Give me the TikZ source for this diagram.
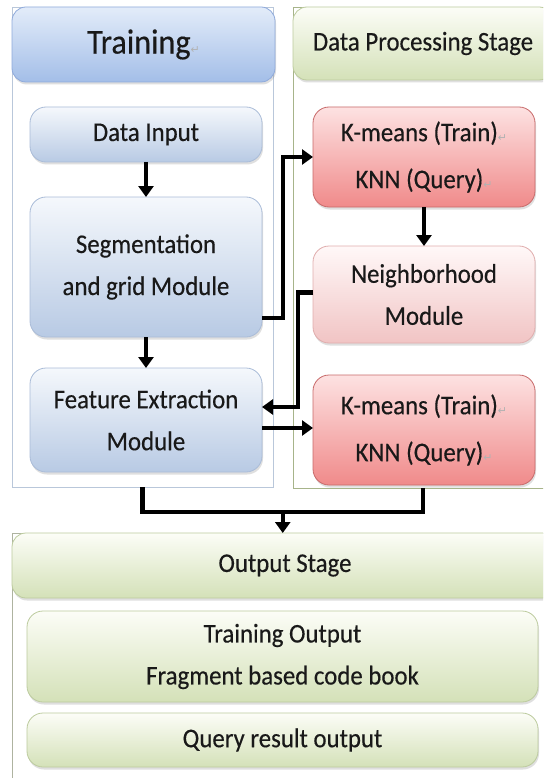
\documentclass[tikz,border=0pt]{standalone}
\usepackage{fontspec}
\setmainfont{Carlito}[FakeStretch=0.92, FakeBold=0.35]
\newfontfamily\dejavu{DejaVu Sans}
\usetikzlibrary{arrows.meta,positioning,shadows,calc}
\definecolor{hdbtop}{HTML}{E3ECF9}
\definecolor{hdbbot}{HTML}{A3BEE8}
\definecolor{hdbline}{HTML}{8FAADB}
\definecolor{blutop}{HTML}{F5F8FC}
\definecolor{blubot}{HTML}{B8CAE4}
\definecolor{bluline}{HTML}{AABCD8}
\definecolor{redtop}{HTML}{FDE2E2}
\definecolor{redbot}{HTML}{F08A8A}
\definecolor{redline}{HTML}{C86A6A}
\definecolor{pinktop}{HTML}{FFF8F8}
\definecolor{pinkbot}{HTML}{F1C4C4}
\definecolor{pinkline}{HTML}{E0ADAD}
\definecolor{grntop}{HTML}{FCFDF7}
\definecolor{grnbot}{HTML}{D4E1B8}
\definecolor{grnline}{HTML}{BCCB9E}
\definecolor{trline}{HTML}{B9C7DA}
\definecolor{dpline}{HTML}{A7B48A}
\definecolor{outln}{HTML}{AEB3A0}
\newcommand{\pmk}{{\dejavu\fontsize{11}{11}\selectfont\textcolor{gray!60}{↵}}}

\begin{document}
\begin{tikzpicture}[
  x=1pt, y=-1pt,
  font=\fontsize{27}{42}\selectfont,
  shade/.style={drop shadow={opacity=0.25, shadow xshift=1pt, shadow yshift=-2.5pt}},
  box/.style={rectangle, rounded corners=16pt, inner sep=0pt, outer sep=0pt,
    align=center, text=black!90, line width=0.8pt, shade},
  blubox/.style={box, draw=bluline, top color=blutop, bottom color=blubot, minimum width=232pt},
  redbox/.style={box, draw=redline, top color=redtop, bottom color=redbot, minimum width=222pt},
  pinkbox/.style={box, draw=pinkline, top color=pinktop, bottom color=pinkbot, minimum width=222pt},
  grnbox/.style={box, draw=grnline, top color=grntop, bottom color=grnbot, minimum width=511pt},
  hdr/.style={rectangle, rounded corners=14pt, inner sep=0pt, outer sep=0pt,
    anchor=north west, align=center, text=black!90, line width=0.8pt, shade},
  panel/.style={rectangle, inner sep=0pt, outer sep=0pt, anchor=north west, line width=0.9pt},
  link/.style={line width=4.5pt},
  arr/.style={link, -{Triangle[length=11pt,width=15pt]}}
]
\useasboundingbox (0,0) rectangle (543,778);
\clip (0,0) rectangle (543,778);
\fill[white] (0,0) rectangle (543,778);

% Panels
\node[panel, draw=trline, minimum width=261pt, minimum height=480pt] (trainbox) at (12,7) {};
\node[panel, draw=dpline, minimum width=260pt, minimum height=481pt] (dpbox) at (293,7) {};
\node[panel, draw=outln, minimum width=546pt, minimum height=280pt] (outbox) at (12,533) {};

% Headers
\node[hdr, draw=hdbline, top color=hdbtop, bottom color=hdbbot, minimum width=263pt,
  minimum height=75pt, font=\fontsize{35}{35}\selectfont] (trainhd) at (12,7) {Training\pmk};
\node[hdr, draw=grnline, top color=grntop, bottom color=grnbot, minimum width=260pt,
  minimum height=73pt] (dphd) at (293,7) {Data Processing Stage};
\node[hdr, draw=grnline, top color=grntop, bottom color=grnbot, minimum width=546pt,
  minimum height=65pt] (outhd) at (12,533) {Output Stage};

% Training column
\node[blubox, minimum height=55pt, anchor=north west] (datain) at (30,107) {Data Input};
\node[blubox, minimum height=140pt, below=35pt of datain] (seg) {Segmentation\\and grid Module};
\node[blubox, minimum height=104pt, below=31pt of seg] (feat) {Feature Extraction\\Module};

\draw[arr] (datain) -- (seg);
\draw[arr] (seg) -- (feat);

% Data processing column
\node[redbox, minimum height=100pt, anchor=north west] (kmtrain) at (313,107)
  {K-means (Train)\pmk\\[5pt]KNN (Query)\pmk};
\node[pinkbox, minimum height=97pt, below=39pt of kmtrain] (nbhood) {Neighborhood\\Module};
\node[redbox, minimum height=110pt, below=32pt of nbhood] (kmfeat)
  {K-means (Train)\pmk\\[5pt]KNN (Query)\pmk};

\draw[arr] (kmtrain) -- (nbhood);
\draw[arr] ([yshift=19pt]seg.south east) -- ++(21,0) |- (kmtrain.west);
\draw[arr] ([yshift=2pt]nbhood.west) -- ++(-15,0) |- ([yshift=13pt]feat.east);
\draw[arr] ([yshift=-8pt]feat.east) -- ([yshift=-8pt]feat.east -| kmfeat.west);

% Merge into output
\coordinate (merge) at ($(trainbox.south)!0.5!(dpbox.south)+(0,25)$);
\draw[link] (trainbox.south) -- ++(0,25) -| (dpbox.south);
\draw[arr] (merge) -- (merge |- outhd.north);

% Output stage
\node[grnbox, minimum height=91pt, anchor=north west] (trainout) at (27,611)
  {Training Output\\Fragment based code book};
\node[grnbox, minimum height=54pt, below=11pt of trainout] (queryout) {Query result output};

\end{tikzpicture}
\end{document}
